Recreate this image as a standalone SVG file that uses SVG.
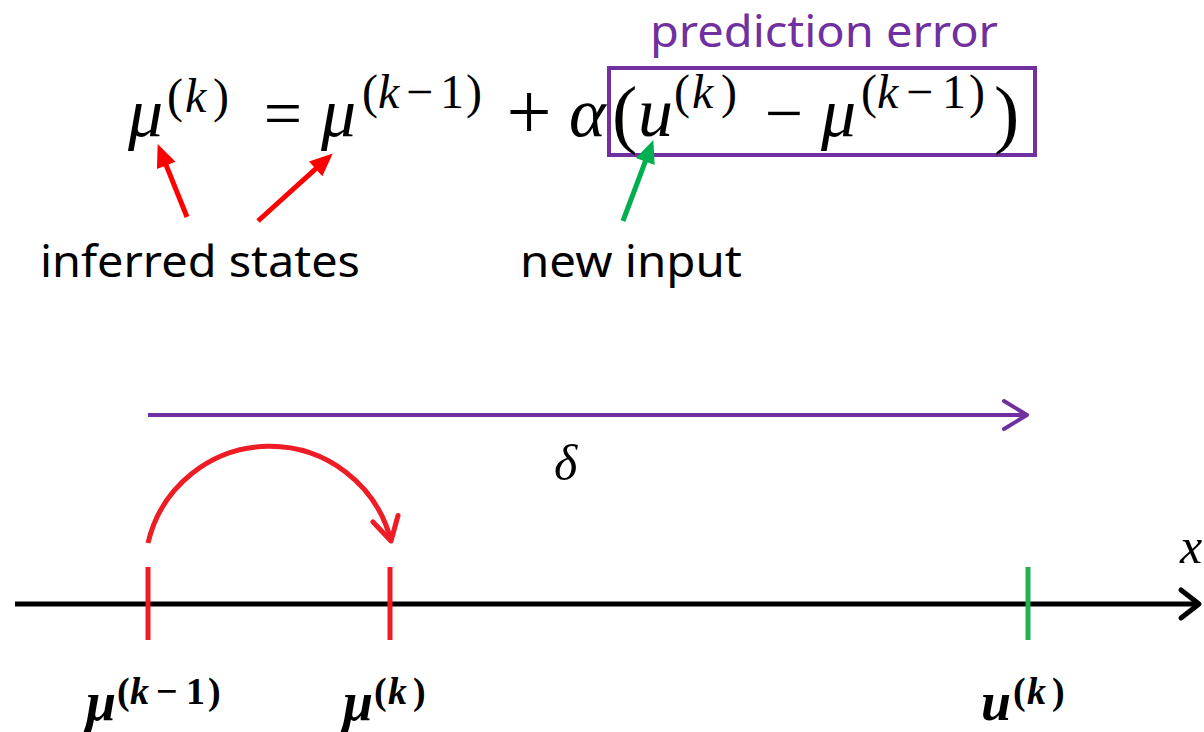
<svg xmlns="http://www.w3.org/2000/svg" width="1204" height="732" viewBox="0 0 1204 732">
<defs>
<style>
.m{font-family:"Liberation Serif","DejaVu Serif",serif;fill:#000}
.i{font-style:italic}
.main{font-size:70px}
.sup{font-size:48px}
.big{font-size:76px}
.op{font-size:68px}
.bot{font-size:54px;font-weight:bold}
.bsup{font-size:38px;font-weight:bold}
.lab{font-family:"Noto Sans","Open Sans",sans-serif;font-size:43px;fill:#000}
.pur{fill:#7030A0}
.arrR{stroke:#FF0000;stroke-width:5;fill:none}
.arrG{stroke:#00B050;stroke-width:5;fill:none}
</style>
<marker id="hr" markerUnits="userSpaceOnUse" viewBox="-12 -12 26 24" refX="0" refY="0" markerWidth="26" markerHeight="24" orient="auto"><path d="M-10,-10 L13,0 L-10,10 Z" fill="#FF0000"/></marker>
<marker id="hg" markerUnits="userSpaceOnUse" viewBox="-12 -12 26 24" refX="0" refY="0" markerWidth="26" markerHeight="24" orient="auto"><path d="M-10,-10 L13,0 L-10,10 Z" fill="#00B050"/></marker>
<marker id="cp" markerUnits="userSpaceOnUse" viewBox="-30 -20 36 40" refX="0" refY="0" markerWidth="36" markerHeight="40" orient="auto"><path d="M-23,-14 L0,0 L-23,14" fill="none" stroke="#7030A0" stroke-width="4" stroke-linecap="round" stroke-linejoin="round"/></marker>
<marker id="cr" markerUnits="userSpaceOnUse" viewBox="-30 -20 36 40" refX="0" refY="0" markerWidth="36" markerHeight="40" orient="auto"><path d="M-23,-13 L0,0 L-23,13" fill="none" stroke="#EE1C25" stroke-width="5" stroke-linecap="round" stroke-linejoin="round"/></marker>
<marker id="ck" markerUnits="userSpaceOnUse" viewBox="-30 -20 36 40" refX="0" refY="0" markerWidth="36" markerHeight="40" orient="auto"><path d="M-18,-14 L0,0 L-18,14" fill="none" stroke="#000" stroke-width="5" stroke-linecap="round" stroke-linejoin="round"/></marker>
</defs>
<rect width="1204" height="732" fill="#fff"/>

<g id="prediction-error-label">
<text class="lab pur" x="650" y="47" textLength="348" lengthAdjust="spacingAndGlyphs">prediction error</text>
</g>

<g id="equation">
<text class="m i main" x="128" y="136">μ</text>
<text class="m sup" y="112"><tspan x="167">(</tspan><tspan x="185" class="i">k</tspan><tspan x="213">)</tspan></text>
<text class="m op" x="283" y="136" text-anchor="middle">=</text>
<text class="m i main" x="321" y="136">μ</text>
<text class="m sup" y="108"><tspan x="362">(</tspan><tspan x="378" class="i">k</tspan><tspan x="406">−</tspan><tspan x="440">1</tspan><tspan x="466">)</tspan></text>
<text class="m" font-size="80" x="529" y="139" text-anchor="middle">+</text>
<text class="m i main" x="569" y="136">α</text>
</g>

<g id="prediction-error-box">
<rect x="609" y="68" width="426" height="87" fill="none" stroke="#7030A0" stroke-width="4"/>
<text class="m big" x="612" y="139">(</text>
<text class="m i main" x="638" y="136">u</text>
<text class="m sup" y="108"><tspan x="674">(</tspan><tspan x="692" class="i">k</tspan><tspan x="721">)</tspan></text>
<text class="m op" x="784" y="136" text-anchor="middle">−</text>
<text class="m i main" x="821" y="136">μ</text>
<text class="m sup" y="108"><tspan x="861">(</tspan><tspan x="877" class="i">k</tspan><tspan x="906">−</tspan><tspan x="942">1</tspan><tspan x="969">)</tspan></text>
<text class="m big" x="994" y="139">)</text>
</g>

<g id="inferred-states">
<text class="lab" x="40" y="277" textLength="320" lengthAdjust="spacingAndGlyphs">inferred states</text>
</g>
<g id="new-input">
<text class="lab" x="520" y="277" textLength="222" lengthAdjust="spacingAndGlyphs">new input</text>
</g>

<g id="connectors">
<line class="arrR" x1="187" y1="217" x2="162.5" y2="156.1" marker-end="url(#hr)"/>
<line class="arrR" x1="258" y1="221" x2="323.1" y2="162.1" marker-end="url(#hr)"/>
<line class="arrG" x1="623" y1="221" x2="648.8" y2="152.2" marker-end="url(#hg)"/>
<line x1="148" y1="415" x2="1027" y2="415" stroke="#7030A0" stroke-width="4" marker-end="url(#cp)"/>
<path d="M148,543 A125,125 0 0 1 391,541" fill="none" stroke="#EE1C25" stroke-width="5" marker-end="url(#cr)"/>
</g>

<g id="delta">
<text class="m i" font-size="50" x="554" y="480">δ</text>
</g>

<g id="axis">
<line x1="15" y1="604" x2="1199" y2="604" stroke="#000" stroke-width="5" marker-end="url(#ck)"/>
<text class="m i" font-size="50" x="1180" y="563">x</text>
</g>

<g id="tick-mu-prev">
<line x1="148" y1="567" x2="148" y2="640" stroke="#EE1C25" stroke-width="5"/>
<text class="m i bot" x="86" y="720">μ</text>
<text class="m bsup" y="704"><tspan x="117">(</tspan><tspan x="130" class="i">k</tspan><tspan x="156">−</tspan><tspan x="186">1</tspan><tspan x="208">)</tspan></text>
</g>

<g id="tick-mu-k">
<line x1="390" y1="567" x2="390" y2="640" stroke="#EE1C25" stroke-width="5"/>
<text class="m i bot" x="343" y="720">μ</text>
<text class="m bsup" y="704"><tspan x="374">(</tspan><tspan x="388" class="i">k</tspan><tspan x="413">)</tspan></text>
</g>

<g id="tick-u-k">
<line x1="1028" y1="567" x2="1028" y2="640" stroke="#22B14C" stroke-width="5"/>
<text class="m i bot" x="981" y="720">u</text>
<text class="m bsup" y="704"><tspan x="1013">(</tspan><tspan x="1027" class="i">k</tspan><tspan x="1052">)</tspan></text>
</g>
</svg>
